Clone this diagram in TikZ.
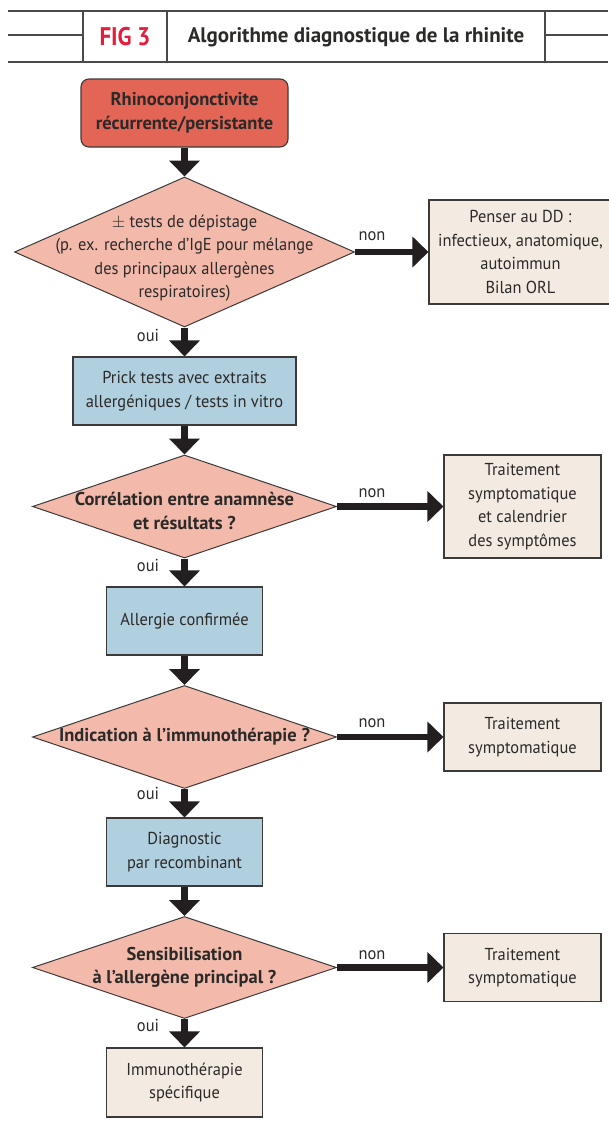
\documentclass[tikz,border=0pt]{standalone}
\usepackage{fontspec}
\setmainfont{PT Sans}
\newfontfamily\bodyfam{PT Sans}[FakeStretch=0.95]
\newfontfamily\figfont{PT Sans}[FakeStretch=0.9]
\usetikzlibrary{arrows.meta,shapes.geometric}
\definecolor{ink}{HTML}{2B2A29}
\definecolor{boxline}{HTML}{3C3A39}
\definecolor{redfill}{HTML}{E36556}
\definecolor{diafill}{HTML}{F3B9AA}
\definecolor{bluefill}{HTML}{B0CFDF}
\definecolor{beigefill}{HTML}{F3EBE1}
\definecolor{arrowc}{HTML}{231F20}
\definecolor{figred}{HTML}{E31E3C}
\definecolor{headc}{HTML}{4A4948}
\newcommand\mybody{\bodyfam\fontsize{17.3}{23.5}\selectfont}
\newcommand\mybold{\fontsize{18.5}{23.5}\selectfont\bfseries}
\tikzset{
  boxbase/.style={draw=boxline, line width=1.1pt, text=ink, align=center, inner sep=0pt, font=\mybody},
  redbox/.style={boxbase, fill=redfill, rounded corners=8pt, font=\mybold},
  bluebox/.style={boxbase, fill=bluefill},
  beigebox/.style={boxbase, fill=beigefill},
  diabox/.style={draw=boxline, line width=1pt, fill=diafill, diamond, inner sep=0pt},
  diatext/.style={text=ink, align=center, inner sep=0pt, font=\mybody},
  boldtext/.style={diatext, font=\mybold},
  arr/.style={draw=arrowc, line width=6.5pt, -{Triangle[width=30pt,length=16pt]}},
  lab/.style={text=ink, font=\mybody, inner sep=0pt, anchor=base},
  hline/.style={draw=headc, line width=1.2pt},
}
\begin{document}
\begin{tikzpicture}[x=1pt,y=-1pt]
\useasboundingbox[fill=white] (0,0) rectangle (608,1130);
% header
\draw[hline] (8,11) -- (608,11);
\draw[hline] (8,62) -- (608,62);
\draw[hline] (83,11) -- (83,62);
\draw[hline] (167,11) -- (167,62);
\draw[hline] (545,11) -- (545,62);
\draw[hline] (8,35) -- (83,35);
\draw[hline] (545,35) -- (608,35);
\node[text=figred, inner sep=0pt, font=\figfont\fontsize{25.5}{28}\selectfont\bfseries] (fig) at (125,37) {FIG 3};
\node[text=ink, inner sep=0pt, font=\fontsize{21}{24}\selectfont\bfseries] (title) at (356,37) {Algorithme diagnostique de la rhinite};
% main column
\node[redbox, minimum width=207, minimum height=68] (start) at (184.5,113) {Rhinoconjonctivite\\récurrente/persistante};
\node[diabox, minimum width=340, minimum height=150] (d1) at (184.5,252) {};
\node[diatext] (t1) at (184.5,258) {$\pm$ tests de dépistage\\(p. ex. recherche d’IgE pour mélange\\des principaux allergènes\\respiratoires)};
\node[bluebox, minimum width=223, minimum height=68] (b2) at (184.5,391) {Prick tests avec extraits\\allergéniques / tests in vitro};
\node[diabox, minimum width=304, minimum height=103] (d2) at (184.5,506.5) {};
\node[boldtext] (t2) at (184.5,511) {Corrélation entre anamnèse\\et résultats ?};
\node[bluebox, minimum width=155.5, minimum height=68] (b3) at (184.5,621) {Allergie confirmée};
\node[diabox, minimum width=304, minimum height=103] (d3) at (184.5,737) {};
\node[boldtext] (t3) at (184.5,737) {Indication à l’immunothérapie ?};
\node[bluebox, minimum width=155.5, minimum height=68] (b4) at (184.5,852) {Diagnostic\\par recombinant};
\node[diabox, minimum width=304, minimum height=102] (d4) at (184.5,967.5) {};
\node[boldtext] (t4) at (184.5,967.5) {Sensibilisation\\à l’allergène principal ?};
\node[beigebox, minimum width=155.5, minimum height=69] (b5) at (184.5,1082.5) {Immunothérapie\\spécifique};
% right column
\node[beigebox, minimum width=183, minimum height=104] (r1) at (520.5,252) {Penser au DD :\\infectieux, anatomique,\\autoimmun\\Bilan ORL};
\node[beigebox, minimum width=157, minimum height=103] (r2) at (522.5,506.5) {Traitement\\symptomatique\\et calendrier\\des symptômes};
\node[beigebox, minimum width=157, minimum height=68] (r3) at (522.5,737) {Traitement\\symptomatique};
\node[beigebox, minimum width=157, minimum height=68] (r4) at (522.5,967.5) {Traitement\\symptomatique};
% vertical arrows
\draw[arr] (start) -- (d1);
\draw[arr] (d1) -- (b2);
\draw[arr] (b2) -- (d2);
\draw[arr] (d2) -- (b3);
\draw[arr] (b3) -- (d3);
\draw[arr] (d3) -- (b4);
\draw[arr] (b4) -- (d4);
\draw[arr] (d4) -- (b5);
% horizontal arrows
\draw[arr] (d1) -- (r1);
\draw[arr] (d2) -- (r2);
\draw[arr] (d3) -- (r3);
\draw[arr] (d4) -- (r4);
% labels
\node[lab] (n1) at (372,240) {non};
\node[lab] (n2) at (372,497) {non};
\node[lab] (n3) at (372,727) {non};
\node[lab] (n4) at (372,959) {non};
\node[lab] (o1) at (148,341) {oui};
\node[lab] (o2) at (148,571) {oui};
\node[lab] (o3) at (148,799) {oui};
\node[lab] (o4) at (148,1031) {oui};
\end{tikzpicture}
\end{document}
